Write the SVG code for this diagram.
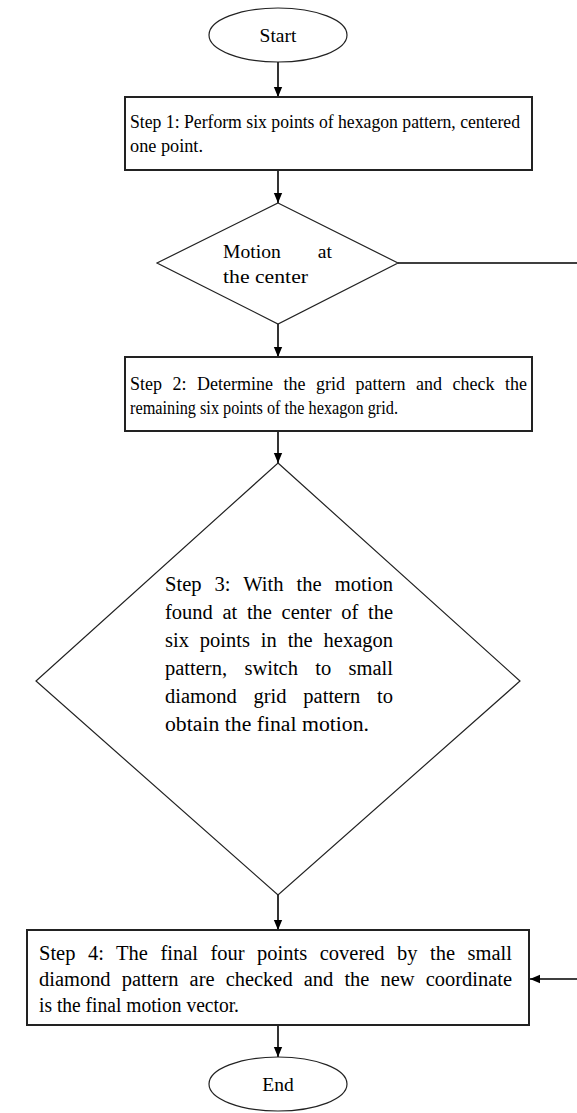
<svg xmlns="http://www.w3.org/2000/svg" width="577" height="1113" viewBox="0 0 577 1113">
<defs>
<marker id="arr" markerUnits="userSpaceOnUse" markerWidth="10" markerHeight="12" viewBox="0 0 12 10" refX="12" refY="5" orient="auto">
<path d="M0,0 L12,5 L0,10 z" fill="#000"/>
</marker>
<style>
.t{font-family:"Liberation Serif","Times New Roman",serif;font-size:18px;fill:#000}
.d1{font-size:19.5px}
.d2{font-size:20.5px}
.b4{font-size:20.5px}
.box{fill:#fff;stroke:#222;stroke-width:2}
.dia{fill:#fff;stroke:#222;stroke-width:1.2}
.ell{fill:#fff;stroke:#222;stroke-width:1.2}
.c{fill:none;stroke:#000;stroke-width:1.6}
</style>
</defs>
<rect width="577" height="1113" fill="#fff"/>
<g id="connectors">
<line class="c" x1="278" y1="62" x2="278" y2="97" marker-end="url(#arr)"/>
<line class="c" x1="278" y1="170" x2="278" y2="203" marker-end="url(#arr)"/>
<line class="c" x1="278" y1="324" x2="278" y2="357" marker-end="url(#arr)"/>
<line class="c" x1="278" y1="431" x2="278" y2="463" marker-end="url(#arr)"/>
<line class="c" x1="278" y1="895" x2="278" y2="930" marker-end="url(#arr)"/>
<line class="c" x1="278" y1="1025" x2="278" y2="1057" marker-end="url(#arr)"/>
<path class="c" d="M398,263 H582 V979 H530" marker-end="url(#arr)"/>
</g>
<g id="start">
<ellipse class="ell" cx="278" cy="35" rx="69" ry="27"/>
<text class="t d1" x="278" y="42" text-anchor="middle">Start</text>
</g>
<g id="step1">
<rect class="box" x="125" y="97" width="407" height="73"/>
<text class="t" x="130" y="128" textLength="390" lengthAdjust="spacingAndGlyphs">Step 1: Perform six points of hexagon pattern, centered</text>
<text class="t" x="130" y="152" textLength="73" lengthAdjust="spacingAndGlyphs">one point.</text>
</g>
<g id="decision1">
<polygon class="dia" points="278,203 398,263 278,324 157,263"/>
<text class="t d1" x="223" y="258" style="word-spacing:32px" textLength="109" lengthAdjust="spacingAndGlyphs">Motion at</text>
<text class="t d1" x="223" y="283" textLength="85" lengthAdjust="spacingAndGlyphs">the center</text>
</g>
<g id="step2">
<rect class="box" x="125" y="357" width="407" height="74"/>
<text class="t" x="130" y="390" style="word-spacing:6px" textLength="397" lengthAdjust="spacingAndGlyphs">Step 2: Determine the grid pattern and check the</text>
<text class="t" x="130" y="414" textLength="268" lengthAdjust="spacingAndGlyphs">remaining six points of the hexagon grid.</text>
</g>
<g id="step3">
<polygon class="dia" points="278,463 520,681 278,895 36,681"/>
<text class="t d2" x="165" y="591" style="word-spacing:7.8px" textLength="228" lengthAdjust="spacingAndGlyphs">Step 3: With the motion</text>
<text class="t d2" x="165" y="619" style="word-spacing:4.5px" textLength="228" lengthAdjust="spacingAndGlyphs">found at the center of the</text>
<text class="t d2" x="165" y="647" style="word-spacing:5.8px" textLength="228" lengthAdjust="spacingAndGlyphs">six points in the hexagon</text>
<text class="t d2" x="165" y="675" style="word-spacing:12.2px" textLength="228" lengthAdjust="spacingAndGlyphs">pattern, switch to small</text>
<text class="t d2" x="165" y="703" style="word-spacing:11.7px" textLength="228" lengthAdjust="spacingAndGlyphs">diamond grid pattern to</text>
<text class="t d2" x="165" y="731" textLength="204" lengthAdjust="spacingAndGlyphs">obtain the final motion.</text>
</g>
<g id="step4">
<rect class="box" x="27" y="930" width="502" height="95"/>
<text class="t b4" x="39" y="960" style="word-spacing:7.4px" textLength="473" lengthAdjust="spacingAndGlyphs">Step 4: The final four points covered by the small</text>
<text class="t b4" x="39" y="986" style="word-spacing:6px" textLength="473" lengthAdjust="spacingAndGlyphs">diamond pattern are checked and the new coordinate</text>
<text class="t b4" x="39" y="1012" textLength="200" lengthAdjust="spacingAndGlyphs">is the final motion vector.</text>
</g>
<g id="end">
<ellipse class="ell" cx="278" cy="1084" rx="69" ry="27"/>
<text class="t d1" x="278" y="1091" text-anchor="middle">End</text>
</g>
</svg>
